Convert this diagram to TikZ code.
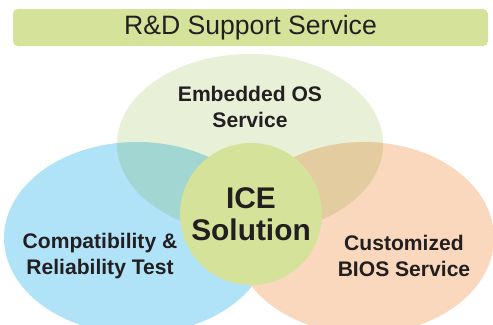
\documentclass[tikz,border=0pt]{standalone}
\usepackage{fontspec}
\setmainfont{Liberation Sans}
\definecolor{barlime}{HTML}{D5E39A}
\definecolor{osgreen}{HTML}{E8F1D8}
\definecolor{testblue}{HTML}{B1E3F8}
\definecolor{biospeach}{HTML}{F9D8BD}
\definecolor{icelime}{HTML}{D5E29A}
\definecolor{txtdark}{HTML}{231F20}

\begin{document}
\begin{tikzpicture}[
    x=0.03cm, y=-0.03cm,
    lbl/.style={font=\fontsize{18}{22.5}\selectfont\bfseries, text=txtdark, align=center},
    icenode/.style={circle, fill=icelime, minimum size=4.26cm, inner sep=0pt, align=center, text=txtdark, font=\fontsize{25.5}{27}\selectfont\bfseries},
    titlebar/.style={fill=barlime, rounded corners=4pt}
  ]
  \useasboundingbox (0,0) rectangle (493,324);
  \clip (0,0) rectangle (493,324);

  \fill[titlebar] (13,9) rectangle (488,46);
  \node[font=\fontsize{22.7}{26}\selectfont, text=txtdark] (title) at (250.5,27.5) {R\&D Support Service};

  \fill[testblue] (137,238) ellipse [x radius=133, y radius=96];
  \fill[biospeach] (364,238) ellipse [x radius=130, y radius=96];
  \begin{scope}[blend mode=multiply]
    \fill[osgreen] (250,144) ellipse [x radius=133, y radius=90];
  \end{scope}

  \node[icenode] (ice) at (251,214) {ICE\\Solution};

  \node[lbl] (os) at (250,107) {Embedded OS\\Service};
  \node[lbl] (compat) at (100,256) {Compatibility \&\\Reliability Test};
  \node[lbl] (bios) at (404,256) {Customized\\BIOS Service};
\end{tikzpicture}
\end{document}
